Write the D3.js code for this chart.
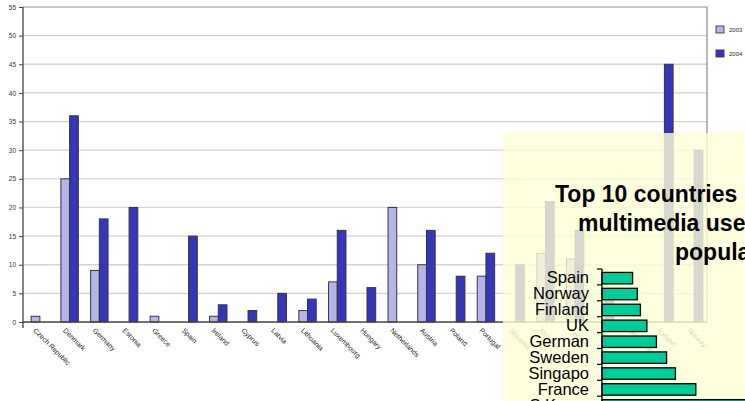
<!DOCTYPE html>
<html>
<head>
<meta charset="utf-8">
<script src="https://cdn.jsdelivr.net/npm/d3@7"></script>
<style>
  html, body { margin: 0; padding: 0; background: #ffffff; overflow: hidden; }
  svg { display: block; }
  text { font-family: "Liberation Sans", Arial, sans-serif; }
</style>
</head>
<body>
<svg id="chart" width="745" height="401"></svg>
<script>
// Countries on the main column chart
const countries = [
  "Czech Republic", "Denmark", "Germany", "Estonia", "Greece", "Spain",
  "Ireland", "Cyprus", "Latvia", "Lithuania", "Luxembourg", "Hungary",
  "Netherlands", "Austria", "Poland", "Portugal", "Slovenia", "Slovakia",
  "Finland", "Sweden", "United Kingdom", "Iceland", "Norway"
];
const years = ["2003", "2004"];
const values2003 = [1, 25, 9, 0, 1, 0, 1, 0, 0, 2, 7, 0, 20, 10, 0, 8, 0, 12, 11, 0, 0, 0, 0];
const values2004 = [0, 36, 18, 20, 0, 15, 3, 2, 5, 4, 16, 6, 0, 16, 8, 12, 10, 21, 16, 4, 0, 45, 30];
const yTicks = [0, 5, 10, 15, 20, 25, 30, 35, 40, 45, 50, 55];

// Inset: top 10 countries (horizontal bars)
const topCountries = ["Spain", "Norway", "Finland", "UK", "German", "Sweden", "Singapo", "France", "S.Korea"];
const topValues = [9.0, 10.4, 11.3, 13.2, 16.0, 19.0, 21.6, 27.6, 48.0];
const titleLines = ["Top 10 countries in", "multimedia users per", "population"];

const svg = d3.select("#chart");

// ---------- main column chart ----------
const plot = { left: 23, right: 707, top: 7, bottom: 322 };
const x = d3.scaleBand().domain(countries).range([25, 709]);
const groupW = 17.4;
const xs = d3.scaleBand().domain(years).range([0, groupW]);
const y = d3.scaleLinear().domain([0, 55]).range([plot.bottom, plot.top]);
const colors = { "2003": "#b5b5e8", "2004": "#3636b8" };

const main = svg.append("g");

// gridlines
main.append("g").selectAll("line")
  .data(yTicks.filter(t => t > 0 && t < 55))
  .join("line")
  .attr("x1", plot.left).attr("x2", plot.right)
  .attr("y1", d => y(d)).attr("y2", d => y(d))
  .attr("stroke", "#d4d4d4").attr("stroke-width", 1.3);

// frame: top and right border
main.append("path")
  .attr("d", `M${plot.left},${plot.top}H${plot.right}V${plot.bottom}`)
  .attr("fill", "none").attr("stroke", "#8a8a8a").attr("stroke-width", 1.2);

// bars
const series = [
  { year: "2003", vals: values2003 },
  { year: "2004", vals: values2004 }
];
series.forEach(s => {
  main.append("g").selectAll("rect")
    .data(countries.map((c, i) => ({ c, v: s.vals[i] })))
    .join("rect")
    .attr("x", d => x(d.c) + x.bandwidth() / 2 - groupW / 2 + xs(s.year))
    .attr("width", xs.bandwidth())
    .attr("y", d => y(d.v))
    .attr("height", d => y(0) - y(d.v))
    .attr("fill", colors[s.year])
    .attr("stroke", "#333344").attr("stroke-width", 1);
});

// y axis
const yAxis = main.append("g")
  .attr("transform", `translate(${plot.left},0)`)
  .call(d3.axisLeft(y).tickValues(yTicks).tickSize(4).tickPadding(3));
yAxis.select(".domain").attr("d", `M0,${plot.top}V${plot.bottom + 6}`)
  .attr("stroke", "#444").attr("stroke-width", 1.3);
yAxis.selectAll(".tick line").attr("stroke", "#444");
yAxis.selectAll(".tick text").attr("font-size", 6.5).attr("fill", "#333")
  .attr("font-family", "'Liberation Sans', Arial, sans-serif");

// x baseline
main.append("line")
  .attr("x1", plot.left).attr("x2", plot.right)
  .attr("y1", y(0)).attr("y2", y(0))
  .attr("stroke", "#444").attr("stroke-width", 1.3);

// category labels, rotated
main.append("g").selectAll("text")
  .data(countries)
  .join("text")
  .attr("transform", d => `translate(${x(d) + x.bandwidth() / 2 - 7},${y(0) + 9}) rotate(45)`)
  .attr("font-size", 7).attr("fill", "#222")
  .text(d => d);

// legend
const legend = main.append("g").attr("transform", "translate(716,26)");
years.forEach((yr, i) => {
  const g = legend.append("g").attr("transform", `translate(0,${i * 24})`);
  g.append("rect").attr("width", 8).attr("height", 7)
    .attr("fill", colors[yr]).attr("stroke", "#333344").attr("stroke-width", 0.9);
  g.append("text").attr("x", 13).attr("y", 6).attr("font-size", 6).attr("fill", "#222").text(yr);
});

// ---------- inset panel ----------
const defs = svg.append("defs");
const pat = defs.append("pattern").attr("id", "weave")
  .attr("width", 4).attr("height", 4).attr("patternUnits", "userSpaceOnUse");
pat.append("rect").attr("width", 4).attr("height", 4).attr("fill", "#ffffcc");
pat.append("path").attr("d", "M0,0.5H4M0.5,0V4").attr("stroke", "#ffffe6").attr("stroke-width", 1);

const inset = svg.append("g");
inset.append("rect")
  .attr("x", 503).attr("y", 133).attr("width", 260).attr("height", 290)
  .attr("fill", "url(#weave)").attr("opacity", 0.8);

inset.append("g").selectAll("text")
  .data(titleLines)
  .join("text")
  .attr("x", (d, i) => [555, 578, 675][i])
  .attr("y", (d, i) => 202 + i * 29)
  .attr("font-size", 23).attr("font-weight", "bold").attr("fill", "#000")
  .text(d => d);

const hx = d3.scaleLinear().domain([0, 50]).range([602, 602 + 50 * 3.4]);
const tickTop = 269;
const hy = d3.scaleBand().domain(topCountries).range([tickTop + 1.2, tickTop + 1.2 + 15.9 * topCountries.length])
  .paddingInner(0.28).paddingOuter(0.14);

inset.append("g").selectAll("rect")
  .data(topCountries.map((c, i) => ({ c, v: topValues[i] })))
  .join("rect")
  .attr("x", hx(0))
  .attr("y", d => hy(d.c))
  .attr("width", d => hx(d.v) - hx(0))
  .attr("height", hy.bandwidth())
  .attr("fill", "#00cc99").attr("stroke", "#000").attr("stroke-width", 1.3);

const hAxis = inset.append("g")
  .attr("transform", `translate(${hx(0)},0)`)
  .call(d3.axisLeft(hy).tickSize(0).tickPadding(13));
hAxis.select(".domain").attr("d", `M0,${tickTop}V${tickTop + 15.9 * topCountries.length}`)
  .attr("stroke", "#000").attr("stroke-width", 1.3);
hAxis.selectAll(".tick text").attr("font-size", 16.5).attr("fill", "#000")
  .attr("font-family", "'Liberation Sans', Arial, sans-serif");

// tick marks between bands
inset.append("g").selectAll("line")
  .data(d3.range(topCountries.length + 1))
  .join("line")
  .attr("x1", hx(0) - 5).attr("x2", hx(0))
  .attr("y1", i => tickTop + i * hy.step()).attr("y2", i => tickTop + i * hy.step())
  .attr("stroke", "#000").attr("stroke-width", 1.2);
</script>
</body>
</html>
